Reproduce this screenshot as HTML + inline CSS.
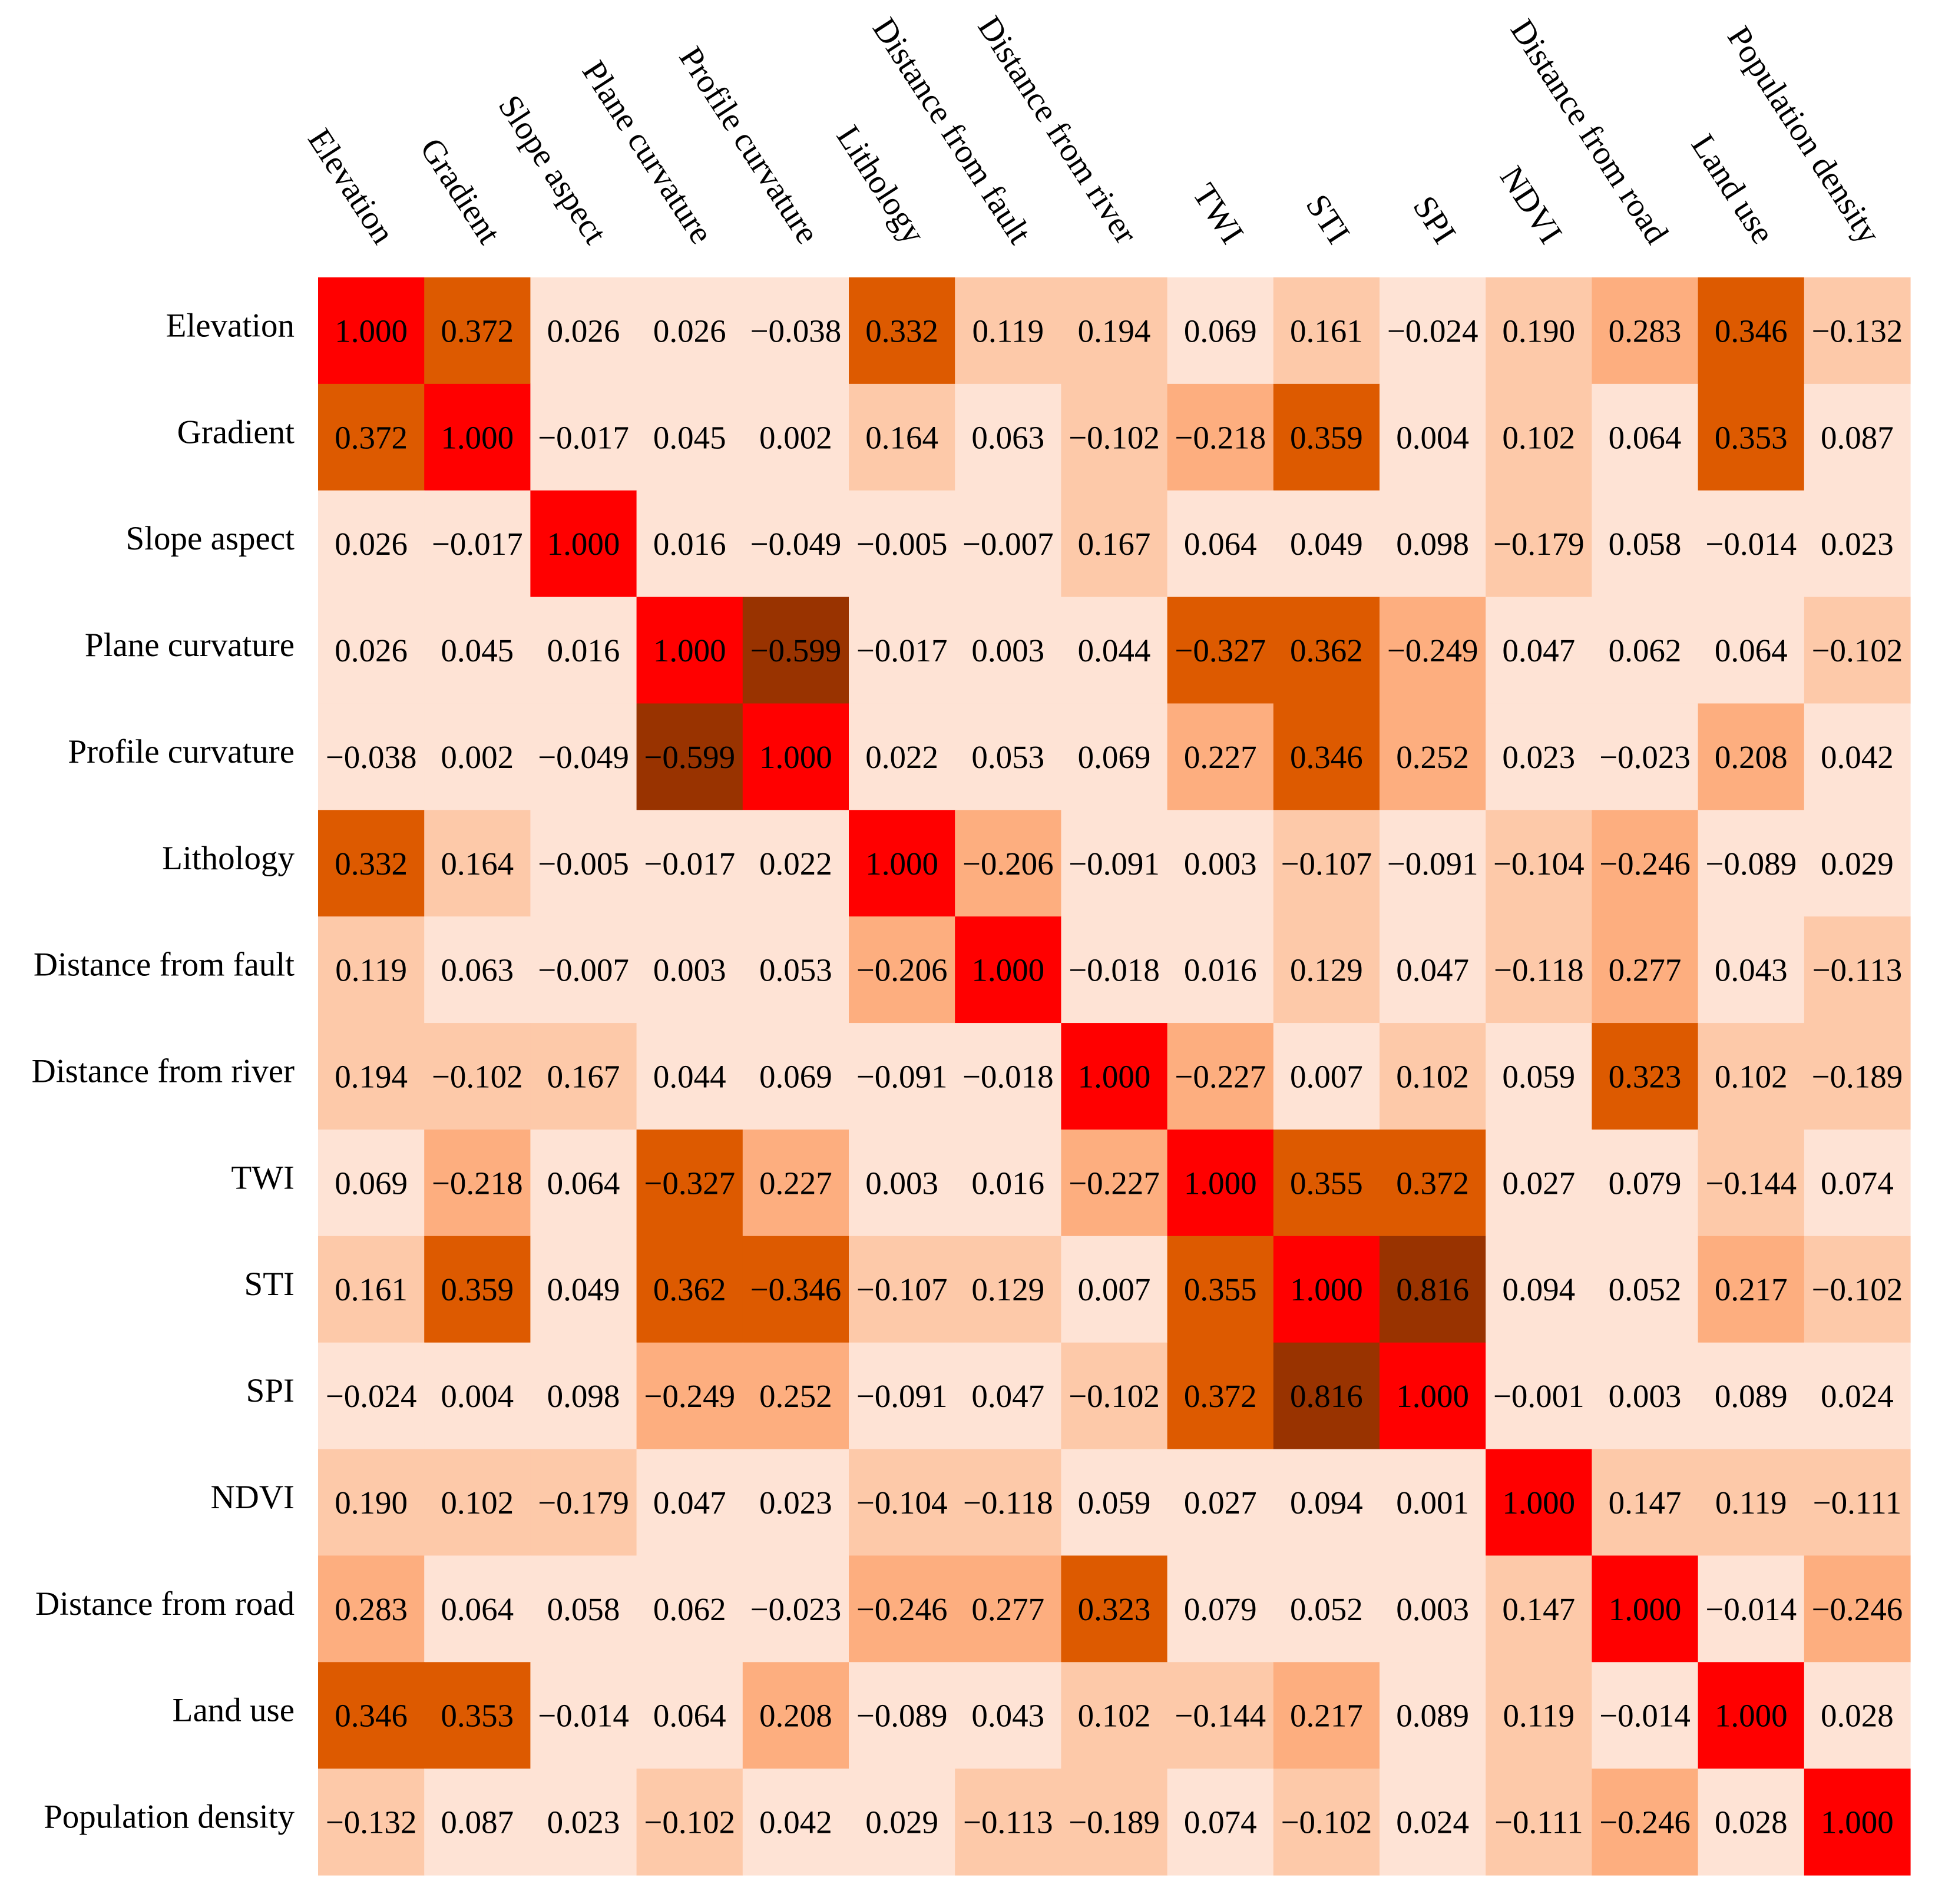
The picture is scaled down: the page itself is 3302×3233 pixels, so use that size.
<!DOCTYPE html>
<html><head><meta charset="utf-8"><style>
html,body{margin:0;padding:0;background:#fff;}
svg{display:block;}
text{font-family:"Liberation Serif",serif;fill:#000;}
</style></head><body>
<svg id="chart" width="3302" height="3233" viewBox="0 0 3302 3233" xmlns="http://www.w3.org/2000/svg">
<g id="cells"></g>
<g id="vals"></g>
<g id="rowlabels"></g>
<g id="collabels"></g>
</svg>
<script>
const factors = ["Elevation","Gradient","Slope aspect","Plane curvature","Profile curvature","Lithology","Distance from fault","Distance from river","TWI","STI","SPI","NDVI","Distance from road","Land use","Population density"];
const r0 = [1.000,0.372,0.026,0.026,-0.038,0.332,0.119,0.194,0.069,0.161,-0.024,0.190,0.283,0.346,-0.132];
const r1 = [0.372,1.000,-0.017,0.045,0.002,0.164,0.063,-0.102,-0.218,0.359,0.004,0.102,0.064,0.353,0.087];
const r2 = [0.026,-0.017,1.000,0.016,-0.049,-0.005,-0.007,0.167,0.064,0.049,0.098,-0.179,0.058,-0.014,0.023];
const r3 = [0.026,0.045,0.016,1.000,-0.599,-0.017,0.003,0.044,-0.327,0.362,-0.249,0.047,0.062,0.064,-0.102];
const r4 = [-0.038,0.002,-0.049,-0.599,1.000,0.022,0.053,0.069,0.227,0.346,0.252,0.023,-0.023,0.208,0.042];
const r5 = [0.332,0.164,-0.005,-0.017,0.022,1.000,-0.206,-0.091,0.003,-0.107,-0.091,-0.104,-0.246,-0.089,0.029];
const r6 = [0.119,0.063,-0.007,0.003,0.053,-0.206,1.000,-0.018,0.016,0.129,0.047,-0.118,0.277,0.043,-0.113];
const r7 = [0.194,-0.102,0.167,0.044,0.069,-0.091,-0.018,1.000,-0.227,0.007,0.102,0.059,0.323,0.102,-0.189];
const r8 = [0.069,-0.218,0.064,-0.327,0.227,0.003,0.016,-0.227,1.000,0.355,0.372,0.027,0.079,-0.144,0.074];
const r9 = [0.161,0.359,0.049,0.362,-0.346,-0.107,0.129,0.007,0.355,1.000,0.816,0.094,0.052,0.217,-0.102];
const r10 = [-0.024,0.004,0.098,-0.249,0.252,-0.091,0.047,-0.102,0.372,0.816,1.000,-0.001,0.003,0.089,0.024];
const r11 = [0.190,0.102,-0.179,0.047,0.023,-0.104,-0.118,0.059,0.027,0.094,0.001,1.000,0.147,0.119,-0.111];
const r12 = [0.283,0.064,0.058,0.062,-0.023,-0.246,0.277,0.323,0.079,0.052,0.003,0.147,1.000,-0.014,-0.246];
const r13 = [0.346,0.353,-0.014,0.064,0.208,-0.089,0.043,0.102,-0.144,0.217,0.089,0.119,-0.014,1.000,0.028];
const r14 = [-0.132,0.087,0.023,-0.102,0.042,0.029,-0.113,-0.189,0.074,-0.102,0.024,-0.111,-0.246,0.028,1.000];
const matrix = [r0,r1,r2,r3,r4,r5,r6,r7,r8,r9,r10,r11,r12,r13,r14];

const NS="http://www.w3.org/2000/svg";
const X0=540,X1=3243,Y0=471,Y1=3184;
const n=factors.length;
const cw=(X1-X0)/n, ch=(Y1-Y0)/n;
function xPos(i){return X0+i*cw;}
function yPos(i){return Y0+i*ch;}
function color(v){
  const a=Math.abs(v);
  if(a>=0.999) return "#ff0000";
  if(a>=0.5) return "#993300";
  if(a>=0.3) return "#dd5a00";
  if(a>=0.2) return "#fdae7f";
  if(a>=0.1) return "#fdc9a9";
  return "#fee3d5";
}
function fmt(v){return (v<0?"\u2212":"")+Math.abs(v).toFixed(3);}
const gC=document.getElementById("cells"),gV=document.getElementById("vals"),gR=document.getElementById("rowlabels"),gL=document.getElementById("collabels");
for(let r=0;r<n;r++){
  for(let c=0;c<n;c++){
    const v=matrix[r][c];
    const rect=document.createElementNS(NS,"rect");
    rect.setAttribute("x",xPos(c));rect.setAttribute("y",yPos(r));
    rect.setAttribute("width",cw+0.6);rect.setAttribute("height",ch+0.6);
    rect.setAttribute("fill",color(v));
    
    
    gC.appendChild(rect);
    const t=document.createElementNS(NS,"text");
    t.setAttribute("x",xPos(c)+cw/2);t.setAttribute("y",yPos(r)+ch/2+19);
    t.setAttribute("text-anchor","middle");t.setAttribute("font-size","55");
    t.textContent=fmt(v);
    
    
    gV.appendChild(t);
  }
  const lt=document.createElementNS(NS,"text");
  lt.setAttribute("x",500);lt.setAttribute("y",yPos(r)+ch/2+10);
  lt.setAttribute("text-anchor","end");lt.setAttribute("font-size","57");
  lt.textContent=factors[r];
  
  
  gR.appendChild(lt);
  const ct=document.createElementNS(NS,"text");
  const ex=xPos(r)+cw/2+10, ey=418;
  ct.setAttribute("x",ex);ct.setAttribute("y",ey);
  ct.setAttribute("text-anchor","end");ct.setAttribute("font-size","57");
  ct.setAttribute("transform","rotate(57 "+ex+" "+ey+")");
  ct.textContent=factors[r];
  
  
  gL.appendChild(ct);
}
</script>
</body></html>
